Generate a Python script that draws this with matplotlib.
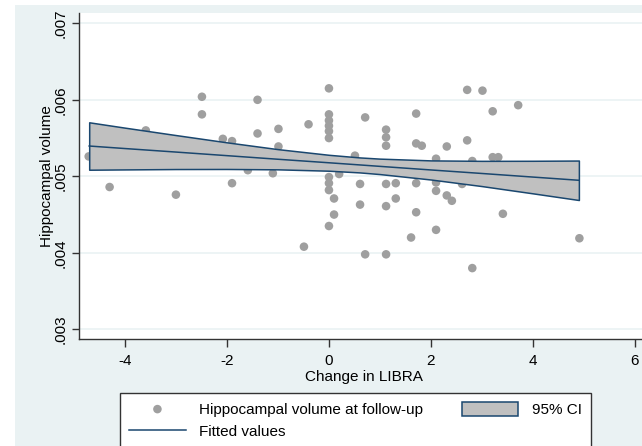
import numpy as np
import matplotlib.pyplot as plt
from matplotlib.patches import Rectangle

plt.rcParams['font.family'] = ['Liberation Sans', 'DejaVu Sans']

# Scatter data
libra_change = [-4.71, -4.30, -3.59, -3.00, -2.49, -2.49, -2.08, -1.90, -1.90, -1.59,
                -1.40, -1.40, -1.10, -0.99, -0.99, -0.49, -0.40,
                0.0, 0.0, 0.0, 0.0, 0.0, 0.0, 0.0, 0.0, 0.0, 0.0,
                0.10, 0.10, 0.20, 0.51, 0.61, 0.61, 0.71, 0.71,
                1.12, 1.12, 1.12, 1.12, 1.12, 1.12, 1.31, 1.31, 1.61,
                1.71, 1.71, 1.71, 1.71, 1.82, 2.10, 2.10, 2.10, 2.10,
                2.31, 2.31, 2.41, 2.61, 2.71, 2.71, 2.81, 2.81, 3.01,
                3.21, 3.21, 3.32, 3.41, 3.71, 4.91]
hippo_volume = [0.00526, 0.00486, 0.00560, 0.00476, 0.00604, 0.00581, 0.00549, 0.00546, 0.00491, 0.00508,
                0.00600, 0.00556, 0.00504, 0.00562, 0.00539, 0.00408, 0.00568,
                0.00615, 0.00581, 0.00573, 0.00566, 0.00559, 0.00550, 0.00499, 0.00491, 0.00482, 0.00435,
                0.00471, 0.00450, 0.00503, 0.00527, 0.00490, 0.00463, 0.00577, 0.00398,
                0.00561, 0.00551, 0.00540, 0.00490, 0.00461, 0.00398, 0.00491, 0.00471, 0.00420,
                0.00582, 0.00543, 0.00491, 0.00453, 0.00540, 0.00523, 0.00492, 0.00481, 0.00430,
                0.00539, 0.00475, 0.00468, 0.00490, 0.00613, 0.00547, 0.00520, 0.00380, 0.00612,
                0.00585, 0.00525, 0.00525, 0.00451, 0.00593, 0.00419]

# Fitted line and 95% CI
fit_x = [-4.7, -4.0, -3.0, -2.0, -1.0, 0.0, 0.6, 1.0, 2.0, 3.0, 4.0, 4.9]
fit_y = [0.005396, 0.005363, 0.005317, 0.005270, 0.005223, 0.005177,
         0.005149, 0.005130, 0.005083, 0.005037, 0.004990, 0.004948]
ci_upper = [0.005706, 0.005636, 0.005539, 0.005444, 0.005355, 0.005281,
            0.005247, 0.005231, 0.005208, 0.005202, 0.005203, 0.005206]
ci_lower = [0.005086, 0.005090, 0.005095, 0.005096, 0.005091, 0.005073,
            0.005051, 0.005029, 0.004958, 0.004872, 0.004777, 0.004690]

xticks = [-4, -2, 0, 2, 4, 6]
yticks = [0.003, 0.004, 0.005, 0.006, 0.007]
ytick_labels = ['.003', '.004', '.005', '.006', '.007']

navy = '#1a476f'
bg = '#eaf2f3'

fig = plt.figure(figsize=(6.42, 4.46), dpi=100)
fig.patches.append(Rectangle((15 / 642, 0), 1, 1 - 5 / 446, transform=fig.transFigure,
                             facecolor=bg, edgecolor='none', zorder=-1))

ax = fig.add_axes([79 / 642, 107 / 446, 569 / 642, 326 / 446])
ax.set_facecolor('white')

sc = ax.scatter(libra_change, hippo_volume, s=38, color='#9f9f9f', edgecolors='none', zorder=2)
band = ax.fill_between(fit_x, ci_lower, ci_upper, facecolor='#c0c0c0', edgecolor=navy,
                       linewidth=1.1, zorder=3)
ln, = ax.plot(fit_x, fit_y, color=navy, lw=1.1, zorder=4)

ax.set_xlim(-4.9, 6.255)
ax.set_ylim(0.002873, 0.007135)
ax.set_xticks(xticks)
ax.set_xticklabels([str(t) for t in xticks], fontsize=11)
ax.set_yticks(yticks)
ax.set_yticklabels(ytick_labels, rotation=90, va='center', fontsize=11)
ax.tick_params(axis='x', length=6, width=1, color='#333333', pad=5)
ax.tick_params(axis='y', length=5, width=1, color='#333333', pad=3)

ax.yaxis.grid(True, color=bg, lw=1.2)
ax.set_axisbelow(True)
for s in ['top', 'right']:
    ax.spines[s].set_visible(False)
for s in ['left', 'bottom']:
    ax.spines[s].set_color('#333333')
    ax.spines[s].set_linewidth(1.0)

ax.set_xlabel('Change in LIBRA', fontsize=11, labelpad=1)
ax.set_ylabel('Hippocampal volume', fontsize=11, labelpad=0)

fig.legend([sc, ln, band], ['Hippocampal volume at follow-up', 'Fitted values', '95% CI'],
           ncol=2, loc='upper left', bbox_to_anchor=(120 / 642, 1 - 393 / 446),
           frameon=True, fancybox=False, edgecolor='#333333', framealpha=1,
           fontsize=11, handlelength=3.7, handleheight=1.0, handletextpad=0.9,
           columnspacing=2.5, borderpad=0.6, labelspacing=0.45, borderaxespad=0,
           markerscale=1.0)

fig.savefig('out.png', dpi=100, facecolor='white')
